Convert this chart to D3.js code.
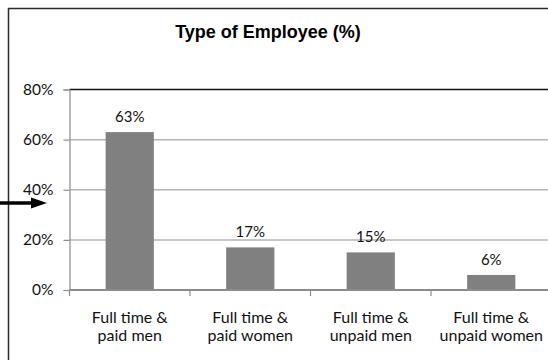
<!DOCTYPE html>
<html>
<head>
<meta charset="utf-8">
<script src="https://cdn.jsdelivr.net/npm/d3@7"></script>
<style>
  html, body { margin: 0; padding: 0; background: #fff; }
  svg { display: block; }
</style>
</head>
<body>
<svg id="chart" width="548" height="360"></svg>
<script>
// Share of employees by type (percent)
const categories = [
  "Full time & paid men",
  "Full time & paid women",
  "Full time & unpaid men",
  "Full time & unpaid women"
];
const shares = [63, 17, 15, 6];
const yTicks = [0, 20, 40, 60, 80];
const chartTitle = "Type of Employee (%)";

const svg = d3.select("#chart");
const labelFont = "Lato, 'Open Sans', sans-serif";

// outer chart frame
svg.append("rect")
  .attr("x", 8.5).attr("y", 8.5)
  .attr("width", 560).attr("height", 380)
  .attr("fill", "none")
  .attr("stroke", "#2b2b2b")
  .attr("stroke-width", 1.5);

svg.append("text")
  .attr("x", 268).attr("y", 38)
  .attr("text-anchor", "middle")
  .attr("font-family", "'Liberation Sans', Arial, sans-serif")
  .attr("font-weight", "bold")
  .attr("font-size", 18)
  .attr("fill", "#000")
  .text(chartTitle);

const plotLeft = 69.5, plotRight = 551.5, plotTop = 89.5, plotBottom = 290;

const x = d3.scaleBand()
  .domain(categories)
  .range([plotLeft, plotRight])
  .paddingInner(0.6)
  .paddingOuter(0.3);

const y = d3.scaleLinear()
  .domain([0, 80])
  .range([plotBottom, plotTop]);

// horizontal gridlines
svg.append("g")
  .selectAll("line")
  .data(yTicks.filter(t => t > 0 && t < 80))
  .join("line")
  .attr("x1", plotLeft).attr("x2", plotRight)
  .attr("y1", d => y(d)).attr("y2", d => y(d))
  .attr("stroke", "#b4b4b4")
  .attr("stroke-width", 1.5);

// top border of the plot at the axis maximum
svg.append("line")
  .attr("x1", plotLeft).attr("x2", plotRight)
  .attr("y1", y(80)).attr("y2", y(80))
  .attr("stroke", "#111")
  .attr("stroke-width", 1.5);

// y axis
const yAxis = d3.axisLeft(y)
  .tickValues(yTicks)
  .tickFormat(d => d + "%")
  .tickSize(6)
  .tickPadding(10);

const gy = svg.append("g")
  .attr("transform", `translate(${plotLeft},0)`)
  .call(yAxis);
gy.select(".domain").attr("stroke", "#8c8c8c").attr("stroke-width", 1.2);
gy.selectAll(".tick line").attr("stroke", "#8c8c8c").attr("stroke-width", 1.2);
gy.selectAll(".tick text")
  .attr("font-family", labelFont)
  .attr("font-size", 15.5)
  .attr("fill", "#111");

// bars
svg.append("g")
  .selectAll("rect")
  .data(categories.map((c, i) => ({ c, v: shares[i] })))
  .join("rect")
  .attr("x", d => x(d.c))
  .attr("y", d => y(d.v))
  .attr("width", x.bandwidth())
  .attr("height", d => y(0) - y(d.v))
  .attr("fill", "#808080");

// value labels
svg.append("g")
  .selectAll("text")
  .data(categories.map((c, i) => ({ c, v: shares[i] })))
  .join("text")
  .attr("x", d => x(d.c) + x.bandwidth() / 2)
  .attr("y", d => y(d.v) - 10)
  .attr("text-anchor", "middle")
  .attr("font-family", labelFont)
  .attr("font-size", 15)
  .attr("fill", "#111")
  .text(d => d.v + "%");

// x axis line with tick marks at category boundaries
const step = x.step();
const slotLeft = c => x(c) + x.bandwidth() / 2 - step / 2;
svg.append("line")
  .attr("x1", plotLeft).attr("x2", plotRight)
  .attr("y1", plotBottom).attr("y2", plotBottom)
  .attr("stroke", "#8c8c8c")
  .attr("stroke-width", 2);
svg.append("g")
  .selectAll("line")
  .data(categories)
  .join("line")
  .attr("x1", d => slotLeft(d)).attr("x2", d => slotLeft(d))
  .attr("y1", plotBottom).attr("y2", plotBottom + 6)
  .attr("stroke", "#8c8c8c")
  .attr("stroke-width", 1.2);

// two-line category labels
const catLabels = svg.append("g")
  .selectAll("text")
  .data(categories)
  .join("text")
  .attr("text-anchor", "middle")
  .attr("font-family", labelFont)
  .attr("font-size", 16)
  .attr("fill", "#111");
catLabels.each(function (d) {
  const cx = x(d) + x.bandwidth() / 2;
  const parts = d.split(" & ");
  const t = d3.select(this);
  t.append("tspan").attr("x", cx).attr("y", 323).text(parts[0] + " &");
  t.append("tspan").attr("x", cx).attr("y", 341).text(parts[1]);
});

// pointer arrow on the left edge
const arrowY = 203;
svg.append("line")
  .attr("x1", 0).attr("x2", 33)
  .attr("y1", arrowY).attr("y2", arrowY)
  .attr("stroke", "#000")
  .attr("stroke-width", 3.5);
svg.append("path")
  .attr("d", d3.line()([[31, arrowY - 5.5], [47, arrowY], [31, arrowY + 5.5]]) + "Z")
  .attr("fill", "#000");
</script>
</body>
</html>
